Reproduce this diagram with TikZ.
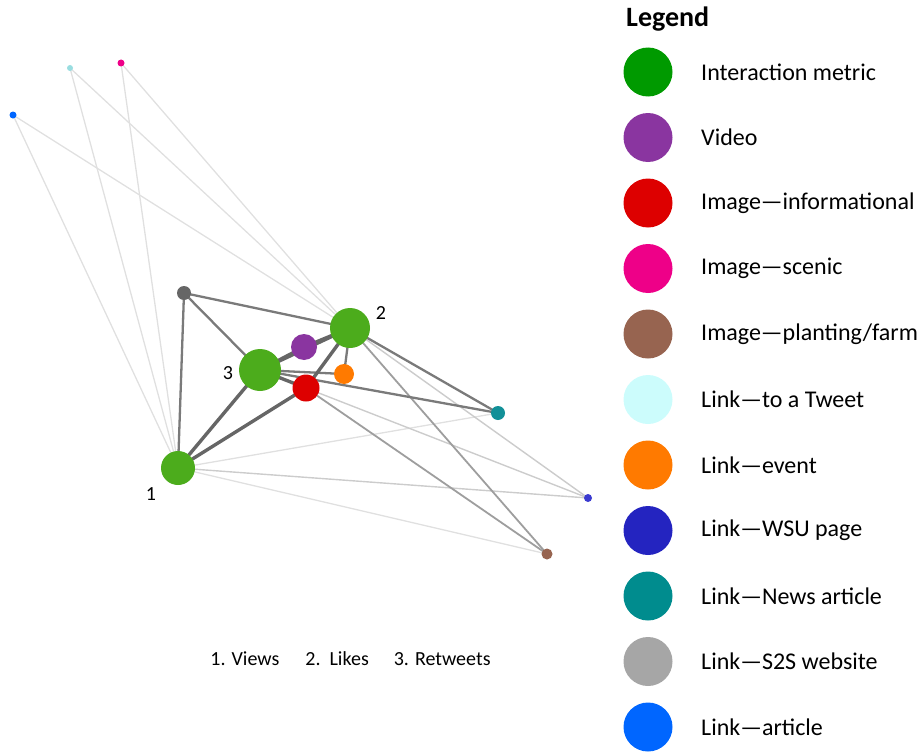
\documentclass[tikz,border=0pt]{standalone}
\usepackage{fontspec}
\setmainfont{Carlito}
\begin{document}
\begin{tikzpicture}[x=1pt,y=-1pt,
  gnode/.style={circle,inner sep=0pt,minimum size=#1},
  elight/.style={draw=black!12,line width=1.3pt},
  elight2/.style={draw=black!20,line width=1.4pt},
  emed/.style={draw=black!38,line width=1.8pt},
  edark/.style={draw=black!52,line width=2.3pt},
  ethick/.style={draw=black!60,line width=3.4pt},
  lgdot/.style={circle,inner sep=0pt,minimum size=49pt},
  lgtext/.style={anchor=west,font=\fontsize{24}{28}\selectfont,inner sep=0pt},
  nlabel/.style={font=\fontsize{20}{22}\selectfont,inner sep=0pt}]
\useasboundingbox (0,0) rectangle (924,752);
\definecolor{ggreen}{HTML}{4CAC1C}
\definecolor{lgreen}{HTML}{009A00}
\definecolor{cpurple}{HTML}{8A35A0}
\definecolor{cred}{HTML}{DD0000}
\definecolor{cpink}{HTML}{EE0088}
\definecolor{cbrown}{HTML}{976450}
\definecolor{ccyan}{HTML}{CCFCFC}
\definecolor{gcyan}{HTML}{99DDE0}
\definecolor{corange}{HTML}{FF7A00}
\definecolor{cwsu}{HTML}{2424C0}
\definecolor{gwsu}{HTML}{3A3AD0}
\definecolor{cteal}{HTML}{008C8E}
\definecolor{gteal}{HTML}{129098}
\definecolor{cs2s}{HTML}{A6A6A6}
\definecolor{gs2s}{HTML}{666666}
\definecolor{cblue}{HTML}{0066FF}
\pgfdeclarelayer{edges}
\pgfsetlayers{edges,main}
% graph nodes
\node[gnode=34pt,fill=ggreen] (n1) at (178,468) {};
\node[gnode=40pt,fill=ggreen] (n2) at (350,328) {};
\node[gnode=42pt,fill=ggreen] (n3) at (260,370) {};
\node[gnode=14pt,fill=gs2s] (s2s) at (184,293) {};
\node[gnode=26pt,fill=cpurple] (vid) at (304,347) {};
\node[gnode=27pt,fill=cred] (red) at (306,388) {};
\node[gnode=20pt,fill=corange] (ev) at (344,374) {};
\node[gnode=14pt,fill=gteal] (news) at (498,413) {};
\node[gnode=8pt,fill=gwsu] (wsu) at (588,498) {};
\node[gnode=11pt,fill=cbrown] (farm) at (547,554) {};
\node[gnode=7pt,fill=cblue] (art) at (13,115) {};
\node[gnode=6pt,fill=gcyan] (tw) at (70,68) {};
\node[gnode=7pt,fill=cpink] (scen) at (121,63) {};
% edges (behind nodes)
\begin{pgfonlayer}{edges}
\draw[elight] (art.center) -- (n1.center);
\draw[elight] (art.center) -- (n2.center);
\draw[elight] (tw.center) -- (n1.center);
\draw[elight] (tw.center) -- (n2.center);
\draw[elight] (scen.center) -- (n1.center);
\draw[elight] (scen.center) -- (n2.center);
\draw[elight] (n1.center) -- (news.center);
\draw[elight2] (n1.center) -- (wsu.center);
\draw[elight] (n1.center) -- (farm.center);
\draw[elight2] (n2.center) -- (wsu.center);
\draw[elight2] (red.center) -- (wsu.center);
\draw[emed] (n2.center) -- (farm.center);
\draw[emed] (red.center) -- (farm.center);
\draw[edark] (s2s.center) -- (n1.center);
\draw[edark] (s2s.center) -- (n2.center);
\draw[edark] (s2s.center) -- (n3.center);
\draw[edark] (n2.center) -- (news.center);
\draw[edark] (n3.center) -- (news.center);
\draw[edark] (n2.center) -- (ev.center);
\draw[edark] (n3.center) -- (ev.center);
\draw[ethick] (n1.center) -- (n3.center);
\draw[ethick] (n1.center) -- (red.center);
\draw[ethick] (n3.center) -- (vid.center);
\draw[ethick] (n3.center) -- (n2.center);
\draw[ethick] (vid.center) -- (n2.center);
\draw[ethick] (n2.center) -- (red.center);
\draw[ethick] (n3.center) -- (red.center);
\end{pgfonlayer}
% labels
\node[nlabel] (l1) at (151,494) {1};
\node[nlabel] (l2) at (381,313) {2};
\node[nlabel] (l3) at (228,373) {3};
\node[font=\fontsize{20}{22}\selectfont,inner sep=0pt] (cap) at (350.5,659) {1. Views\hspace{26pt}2.\ \ Likes\hspace{25pt}3. Retweets};
% legend
\node[anchor=west,font=\bfseries\fontsize{28}{32}\selectfont,inner sep=0pt] (lgtitle) at (626,19) {Legend};
\foreach \y/\c/\t [count=\i] in {72/lgreen/{Interaction metric}, 137.5/cpurple/{Video}, 203/cred/{Image—informational}, 268.5/cpink/{Image—scenic}, 334/cbrown/{Image—planting/farm}, 399.5/ccyan/{Link—to a Tweet}, 465/corange/{Link—event}, 530.5/cwsu/{Link—WSU page}, 596/cteal/{Link—News article}, 661.5/cs2s/{Link—S2S website}, 727/cblue/{Link—article}}{
  \node[lgdot,fill=\c] (ld\i) at (648,\y) {};
  \node[lgtext] (lt\i) at (701,\y) {\t};
}
\end{tikzpicture}
\end{document}
